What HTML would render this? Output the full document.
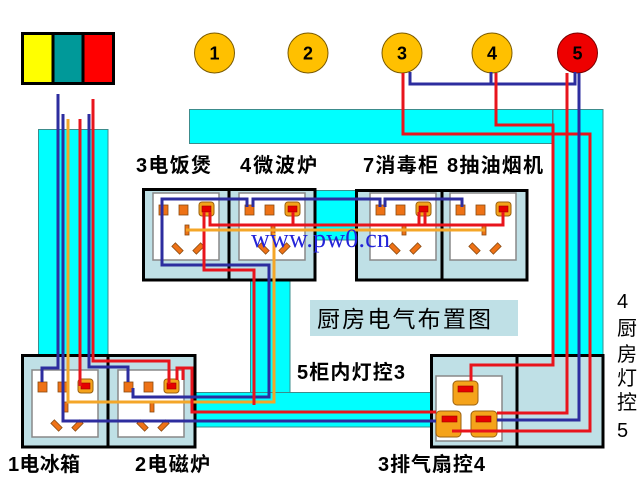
<!DOCTYPE html>
<html>
<head>
<meta charset="utf-8">
<style>
  html,body{margin:0;padding:0;background:#fff;}
  svg{display:block;}
  .t{fill:#ee7216;stroke:#8a4a10;stroke-width:0.8;}
  .b{fill:#f5a31a;stroke:#9a6010;stroke-width:1;}
  .r{fill:#e60000;stroke:#990000;stroke-width:0.6;}
  .cy{fill:#00ffff;stroke:#3c8c8c;stroke-width:1;}
  .box{fill:#bfe0e6;stroke:#000;stroke-width:3;}
  .w{fill:none;stroke-width:3;stroke-linejoin:miter;stroke-linecap:butt;}
  .wb{stroke:#2d2d9f;}
  .wr{stroke:#e8141c;}
  .wo{stroke:#f4a628;}
  .lbl{font-family:"Liberation Sans","Noto Sans CJK SC",sans-serif;font-size:20px;fill:#000;}
</style>
</head>
<body>
<svg width="640" height="480" viewBox="0 0 640 480" xmlns="http://www.w3.org/2000/svg">
  <defs>
    <g id="sk">
      <rect x="0" y="0" width="66" height="67" fill="#fff" stroke="#888" stroke-width="1.5"/>
      <rect x="6" y="12" width="9" height="10" class="t"/>
      <rect x="26" y="12" width="9" height="10" class="t"/>
      <rect x="46" y="9" width="15" height="14" rx="3" class="b"/>
      <rect x="49" y="13" width="9" height="6" class="r"/>
      <rect x="32" y="32" width="4" height="10" class="t"/>
      <rect x="19" y="53" width="11" height="5" class="t" transform="rotate(45 24.5 55.5)"/>
      <rect x="40" y="53" width="11" height="5" class="t" transform="rotate(-45 45.5 55.5)"/>
    </g>
  </defs>

  <!-- colour block -->
  <rect x="22.5" y="33.5" width="91" height="50" fill="#ffff00" stroke="#000" stroke-width="3"/>
  <rect x="53" y="35" width="30" height="47" fill="#009999"/>
  <rect x="83" y="35" width="29" height="47" fill="#ff0000"/>
  <line x1="53" y1="34" x2="53" y2="83" stroke="#000" stroke-width="3"/>
  <line x1="83" y1="34" x2="83" y2="83" stroke="#000" stroke-width="3"/>

  <!-- circles -->
  <g font-family="Liberation Sans, sans-serif" font-size="18" font-weight="bold" text-anchor="middle">
    <circle cx="214.5" cy="53" r="20" fill="#ffc000" stroke="#7a5a00" stroke-width="1"/>
    <text x="214.5" y="59.5">1</text>
    <circle cx="308" cy="53" r="20" fill="#ffc000" stroke="#7a5a00" stroke-width="1"/>
    <text x="308" y="59.5">2</text>
    <circle cx="402" cy="53" r="20" fill="#ffc000" stroke="#7a5a00" stroke-width="1"/>
    <text x="402" y="59.5">3</text>
    <circle cx="492" cy="53" r="20" fill="#ffc000" stroke="#7a5a00" stroke-width="1"/>
    <text x="492" y="59.5">4</text>
    <circle cx="577.5" cy="53" r="20" fill="#ee0000" stroke="#7a0000" stroke-width="1"/>
    <text x="577.5" y="59.5">5</text>
  </g>

  <!-- cyan conduits -->
  <rect x="189.5" y="109.5" width="363" height="34" class="cy"/>
  <rect x="553" y="109.5" width="50" height="245.5" class="cy"/>
  <rect x="38.5" y="129.5" width="69.5" height="225.5" class="cy"/>
  <rect x="315" y="190.5" width="42" height="49.5" class="cy"/>
  <rect x="250.5" y="279" width="39.5" height="113.5" class="cy"/>
  <rect x="195" y="392.5" width="237" height="34.5" class="cy"/>

  <!-- socket outer boxes -->
  <rect x="143.5" y="189.5" width="171.5" height="90.5" class="box"/>
  <line x1="229" y1="189" x2="229" y2="280" stroke="#000" stroke-width="3"/>
  <rect x="356.5" y="190.5" width="170.5" height="89.5" class="box"/>
  <line x1="442" y1="190" x2="442" y2="280" stroke="#000" stroke-width="3"/>
  <rect x="22.5" y="355.5" width="172.5" height="91.5" class="box"/>
  <line x1="108" y1="355" x2="108" y2="447" stroke="#000" stroke-width="3"/>
  <rect x="431.5" y="355.5" width="171.5" height="91.5" class="box"/>
  <line x1="517" y1="355" x2="517" y2="447" stroke="#000" stroke-width="3"/>

  <!-- socket faces -->
  <use href="#sk" transform="translate(153,193)"/>
  <use href="#sk" transform="translate(239,193)"/>
  <use href="#sk" transform="translate(370,193)"/>
  <use href="#sk" transform="translate(450,193)"/>
  <use href="#sk" transform="translate(32,370)"/>
  <use href="#sk" transform="translate(118,370)"/>

  <!-- exhaust fan switch -->
  <rect x="436" y="376" width="66" height="65" fill="#fff" stroke="#888" stroke-width="1.5"/>
  <rect x="453" y="381" width="25" height="24" rx="4" class="b"/>
  <rect x="458" y="386" width="15" height="6" class="r"/>
  <rect x="436" y="411" width="25" height="26" rx="4" class="b"/>
  <rect x="442" y="416" width="15" height="6" class="r"/>
  <rect x="471" y="411" width="26" height="26" rx="4" class="b"/>
  <rect x="476" y="416" width="15" height="6" class="r"/>

  <!-- heading box -->
  <rect x="310" y="300" width="208" height="36" fill="#bfe0e6"/>
  <text x="317" y="327" font-family="Liberation Sans, Noto Sans CJK SC, sans-serif" font-size="23" fill="#000" textLength="174" lengthAdjust="spacing">厨房电气布置图</text>

  <!-- wires: top right -->
  <path class="w wr" d="M403,73 V134 H590 V431 H452"/>
  <path class="w wb" d="M410,72 V84 H575 V72"/>
  <path class="w wb" d="M491,72 V84"/>
  <path class="w wr" d="M496,73 V125 H553 V365 H471 V381"/>
  <path class="w wr" d="M567,73 V413 H497"/>
  <path class="w wb" d="M579,73 V420 H497"/>

  <!-- wires: left strip -->
  <path class="w wb" d="M58,94 V368 H42 V382"/>
  <path class="w wb" d="M63,114 V421 H436"/>
  <path class="w wo" d="M68,119 V402 H274 V233"/>
  <path class="w wr" d="M80,119 V386"/>
  <path class="w wb" d="M89,114 V367 H128 V382"/>
  <path class="w wr" d="M93,99 V361 H169 V384"/>
  <path class="w wr" d="M177,380 V368 H192 V412 H436"/>
  <path class="w wr" d="M183,368 V380"/>

  <!-- wires: top sockets -->
  <path class="w wb" d="M133,388 V397 H269 V265 H162 V199 H247 V207 M253,207 V199 H380 V207 M385,207 V199 H462 V207"/>
  <path class="w wr" d="M204,212 V270 H254 V405"/>
  <path class="w wr" d="M210,212 V225 H503 V212 M293,212 V225 M419,212 V225 M425,212 V225"/>
  <path class="w wo" d="M186,230 H485"/>

  <!-- labels -->
  <g class="lbl" font-weight="bold">
    <text x="136" y="172" textLength="75" lengthAdjust="spacing">3电饭煲</text>
    <text x="240" y="172" textLength="77" lengthAdjust="spacing">4微波炉</text>
    <text x="363" y="172" textLength="75" lengthAdjust="spacing">7消毒柜</text>
    <text x="447" y="172" textLength="96" lengthAdjust="spacing">8抽油烟机</text>
    <text x="297" y="379" textLength="108" lengthAdjust="spacing">5柜内灯控3</text>
    <text x="378" y="471" textLength="107" lengthAdjust="spacing">3排气扇控4</text>
    <text x="8" y="471" textLength="72" lengthAdjust="spacing">1电冰箱</text>
    <text x="135" y="471" textLength="75" lengthAdjust="spacing">2电磁炉</text>
  </g>
  <g class="lbl">
    <text x="617" y="308">4</text>
    <text x="617" y="335">厨</text>
    <text x="617" y="361">房</text>
    <text x="617" y="385">灯</text>
    <text x="617" y="409">控</text>
    <text x="617" y="437">5</text>
  </g>

  <!-- watermark -->
  <text x="251" y="247" font-family="Liberation Serif, serif" font-size="26" fill="#2424d8" textLength="139" lengthAdjust="spacing">www.pw0.cn</text>
</svg>
</body>
</html>
